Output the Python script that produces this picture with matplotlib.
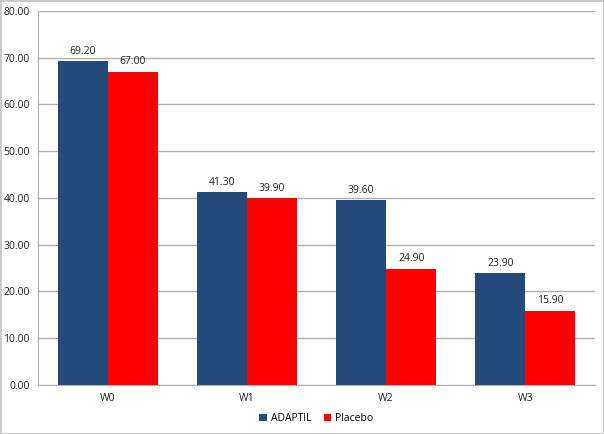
import matplotlib
matplotlib.use("Agg")
from matplotlib import pyplot as plt
import numpy as np

weeks = ["W0", "W1", "W2", "W3"]
adaptil = [69.20, 41.30, 39.60, 23.90]
placebo = [67.00, 39.90, 24.90, 15.90]
yticks = np.arange(0, 81, 10)

plt.rcParams['font.family'] = ['Open Sans', 'DejaVu Sans']

fig = plt.figure(figsize=(6.04, 4.34), dpi=100)
ax = fig.add_axes([0.063, 0.113, 0.922, 0.862])

x = np.arange(len(weeks))
w = 0.36
b1 = ax.bar(x - w / 2, adaptil, w, color="#244a7c", label="ADAPTIL", zorder=3)
b2 = ax.bar(x + w / 2, placebo, w, color="#ff0000", label="Placebo", zorder=3)

for bars in (b1, b2):
    for r in bars:
        ax.text(r.get_x() + r.get_width() / 2, r.get_height() + 0.9, "%.2f" % r.get_height(),
                ha="center", va="bottom", fontsize=7.5, color="#222222")

ax.set_xlim(-0.5, len(weeks) - 0.5)
ax.set_ylim(0, 80)
ax.set_yticks(yticks)
ax.set_yticklabels(["%.2f" % v for v in yticks], fontsize=7.5)
ax.set_xticks(x)
ax.set_xticklabels(weeks, fontsize=7.5)
ax.tick_params(axis="both", length=0, pad=6, colors="#222222")
ax.grid(axis="y", color="#b0b0b0", linewidth=1, zorder=0)
for s in ("top", "right"):
    ax.spines[s].set_visible(False)
ax.spines["left"].set_color("#b0b0b0")
ax.spines["bottom"].set_color("#b0b0b0")

ax.legend(loc="upper center", bbox_to_anchor=(0.5, -0.05), ncol=2, frameon=False,
          fontsize=7.5, handlelength=0.7, handleheight=0.7, handletextpad=0.4, columnspacing=1.2)

fig.patches.append(plt.Rectangle((0, 0), 1, 1, transform=fig.transFigure, fill=False,
                                 edgecolor="#c8c8c8", linewidth=2))

fig.savefig("out.png", dpi=100)
